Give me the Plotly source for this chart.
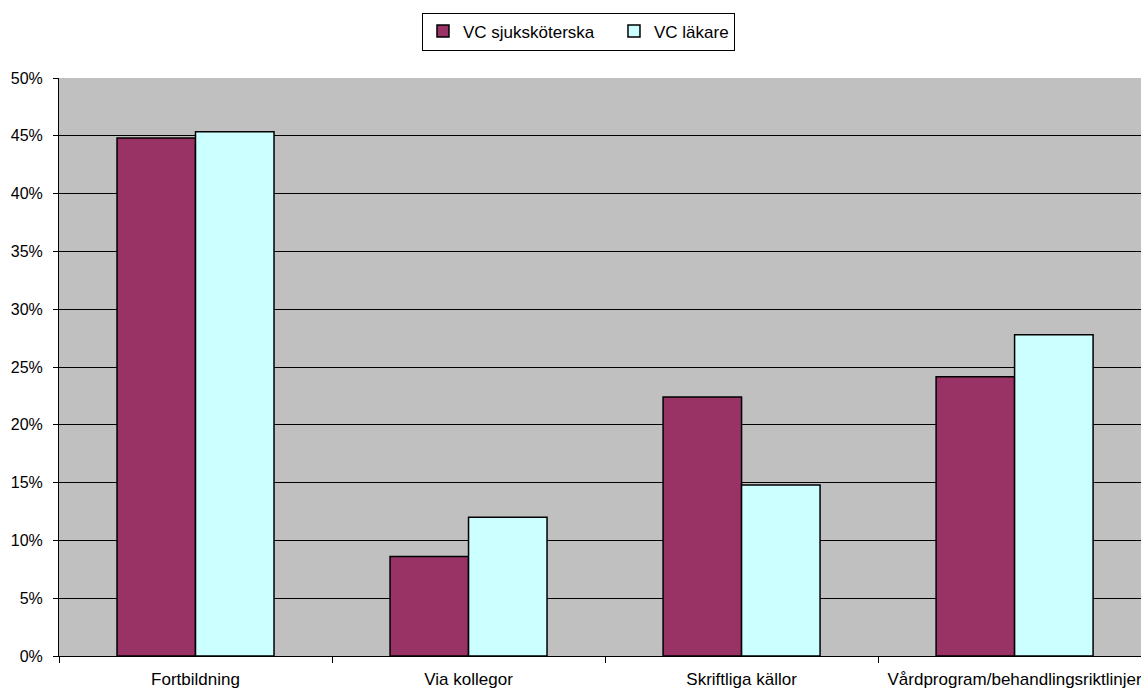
import plotly.graph_objects as go

categories = ["Fortbildning", "Via kollegor", "Skriftliga källor", "Vårdprogram/behandlingsriktlinjer"]
sjukskoterska = [0.448, 0.086, 0.224, 0.2415]
lakare = [0.4535, 0.120, 0.148, 0.278]
series_names = ["VC sjuksköterska", "VC läkare"]
tick_vals = [0, 0.05, 0.10, 0.15, 0.20, 0.25, 0.30, 0.35, 0.40, 0.45, 0.50]
tick_text = ["0%", "5%", "10%", "15%", "20%", "25%", "30%", "35%", "40%", "45%", "50%"]

font_family = "Liberation Sans, Arial, sans-serif"

fig = go.Figure()
fig.add_trace(go.Bar(
    x=categories, y=sjukskoterska, name=series_names[0],
    marker=dict(color="#993366", line=dict(color="black", width=1.5)),
    legendwidth=146,
))
fig.add_trace(go.Bar(
    x=categories, y=lakare, name=series_names[1],
    marker=dict(color="#CCFFFF", line=dict(color="black", width=1.5)),
))

fig.update_layout(
    width=1141, height=689,
    margin=dict(l=59, r=0, t=78, b=33),
    paper_bgcolor="white",
    plot_bgcolor="#C0C0C0",
    barmode="group",
    bargap=0.425,
    bargroupgap=0,
    font=dict(family=font_family, size=16, color="black"),
    showlegend=True,
    legend=dict(
        orientation="h",
        xref="container", yref="container",
        x=0.507, xanchor="center",
        y=1 - 31.5 / 689, yanchor="middle",
        bgcolor="white",
        bordercolor="black", borderwidth=1,
        font=dict(family=font_family, size=17),
        itemwidth=30,
        traceorder="normal",
    ),
    xaxis=dict(
        range=[-0.5, 3.463],
        showgrid=False,
        ticks="outside", tickson="boundaries", ticklen=6, tickcolor="black",
        showline=True, linecolor="black", linewidth=1,
        tickfont=dict(family=font_family, size=17),
        ticklabelstandoff=8,
    ),
    yaxis=dict(
        range=[0, 0.5],
        tickvals=tick_vals, ticktext=tick_text,
        showgrid=True, gridcolor="black", gridwidth=1,
        ticks="outside", ticklen=5, tickcolor="black",
        showline=True, linecolor="black", linewidth=1,
        zeroline=False,
        tickfont=dict(family=font_family, size=16),
        ticklabelstandoff=7,
    ),
)

fig.write_html("out.html")
